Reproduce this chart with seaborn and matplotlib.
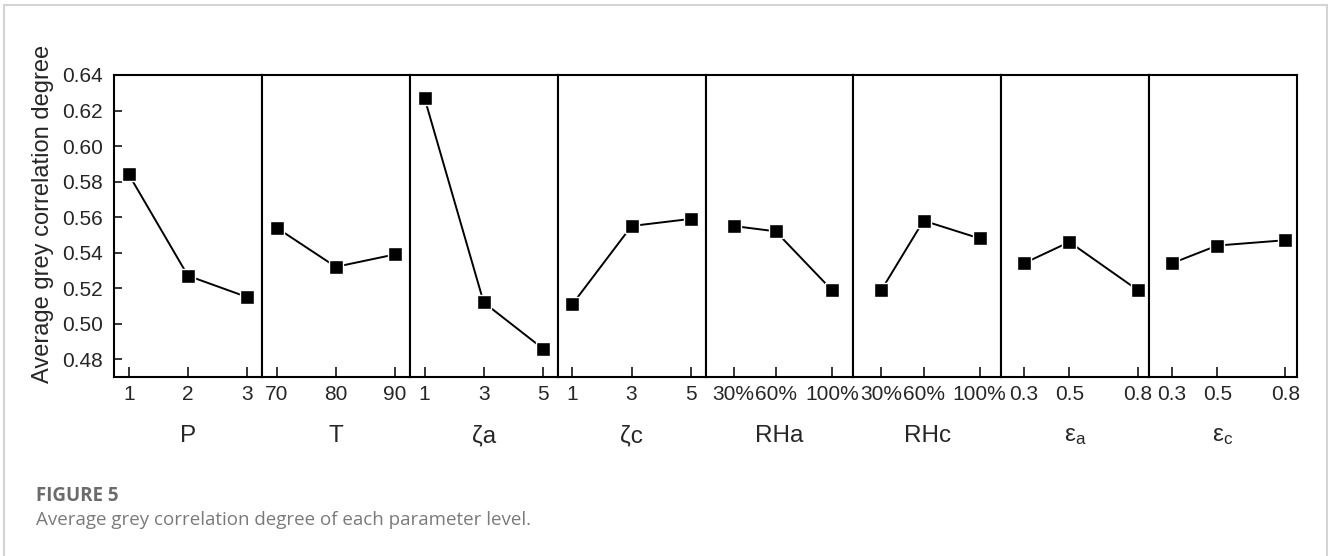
import matplotlib
matplotlib.use('Agg')
import pandas as pd
import matplotlib.pyplot as plt
import seaborn as sns
from matplotlib.lines import Line2D

# === DATOS ===
params = ['P', 'T', 'ζa', 'ζc', 'RHa', 'RHc', 'εa', 'εc']
param_labels = ['P', 'T', 'ζa', 'ζc', 'RHa', 'RHc',
                r'$\mathregular{ε_a}$', r'$\mathregular{ε_c}$']

P_levels = [1, 2, 3]
T_levels = [70, 80, 90]
za_levels = [1, 3, 5]
zc_levels = [1, 3, 5]
RHa_levels = [30, 60, 100]
RHc_levels = [30, 60, 100]
ea_levels = [0.3, 0.5, 0.8]
ec_levels = [0.3, 0.5, 0.8]

P_grey = [0.584, 0.527, 0.515]
T_grey = [0.554, 0.532, 0.539]
za_grey = [0.627, 0.512, 0.486]
zc_grey = [0.511, 0.555, 0.559]
RHa_grey = [0.555, 0.552, 0.519]
RHc_grey = [0.519, 0.558, 0.548]
ea_grey = [0.534, 0.546, 0.519]
ec_grey = [0.534, 0.544, 0.547]

pct_labels = ['30%', '60%', '100%']
eps_labels = ['0.3', '0.5', '0.8']

levels = [P_levels, T_levels, za_levels, zc_levels, RHa_levels, RHc_levels, ea_levels, ec_levels]
greys = [P_grey, T_grey, za_grey, zc_grey, RHa_grey, RHc_grey, ea_grey, ec_grey]
tick_labels = [['1', '2', '3'], ['70', '80', '90'], ['1', '3', '5'], ['1', '3', '5'],
               pct_labels, pct_labels, eps_labels, eps_labels]

# tabla larga para seaborn
rows = []
for name, lv, gv in zip(params, levels, greys):
    for x, y in zip(lv, gv):
        rows.append({'param': name, 'level': x, 'grey': y})
df = pd.DataFrame(rows)

# limites del eje x de cada panel (layout)
xlims = [(0.75, 3.25), (67.5, 92.5), (0.5, 5.5), (0.5, 5.5),
         (10, 115.4), (10, 115.4), (0.2, 0.851), (0.2, 0.851)]

# === ESTILO ===
sns.set_style('ticks')
plt.rcParams['font.family'] = ['Liberation Sans', 'DejaVu Sans']
plt.rcParams['mathtext.fontset'] = 'custom'
plt.rcParams['mathtext.rm'] = 'Liberation Sans'

W, H = 1328, 556
fig, axes = plt.subplots(1, 8, figsize=(W / 100, H / 100), dpi=100, sharey=True)
fig.subplots_adjust(left=114 / W, right=1297 / W, top=1 - 75 / H, bottom=1 - 377 / H, wspace=0)

for i, ax in enumerate(axes):
    sub = df[df['param'] == params[i]]
    sns.lineplot(data=sub, x='level', y='grey', ax=ax, color='black', linewidth=1.4,
                 marker='s', markersize=10, markerfacecolor='black',
                 markeredgecolor='white', markeredgewidth=1.0)
    ax.set_xlim(*xlims[i])
    ax.set_xticks(levels[i])
    ax.set_xticklabels(tick_labels[i])
    ax.set_xlabel('')
    ax.set_ylabel('')
    for s in ax.spines.values():
        s.set_visible(True)
        s.set_linewidth(1.5)
        s.set_color('black')
    ax.tick_params(axis='x', direction='in', length=7, width=1.3, labelsize=15, pad=6)
    if i == 0:
        ax.tick_params(axis='y', direction='in', length=6, width=1.3, labelsize=15, pad=8)
    else:
        ax.tick_params(axis='y', left=False, labelleft=False)
    ax.text(0.5, -0.197, param_labels[i], transform=ax.transAxes, ha='center', va='center',
            fontsize=17.5)

axes[0].set_ylim(0.47, 0.64)
axes[0].set_yticks([0.48, 0.50, 0.52, 0.54, 0.56, 0.58, 0.60, 0.62, 0.64])
axes[0].set_yticklabels(['0.48', '0.50', '0.52', '0.54', '0.56', '0.58', '0.60', '0.62', '0.64'])

fig.text(43 / W, 1 - 214 / H, 'Average grey correlation degree', rotation=90,
         ha='center', va='center', fontsize=17)

# pie de figura
fig.text(36 / W, 1 - 496 / H, 'FIGURE 5', family=['Open Sans', 'DejaVu Sans'],
         fontweight='bold', color='#6b6b6b', fontsize=13.5, va='center')
fig.text(36 / W, 1 - 520 / H, 'Average grey correlation degree of each parameter level.',
         family=['Open Sans', 'DejaVu Sans'], color='#7a7a7a', fontsize=13.5, va='center')

# marco gris
bc = '#d4d4d4'
fig.add_artist(Line2D([4 / W, 4 / W], [0, 1 - 4.5 / H], transform=fig.transFigure, color=bc, lw=1.5))
fig.add_artist(Line2D([4 / W, 1326.5 / W], [1 - 4.5 / H, 1 - 4.5 / H], transform=fig.transFigure, color=bc, lw=1.5))
fig.add_artist(Line2D([1326.5 / W, 1326.5 / W], [0, 1 - 4.5 / H], transform=fig.transFigure, color=bc, lw=1.5))

fig.savefig('out.png', dpi=100)
